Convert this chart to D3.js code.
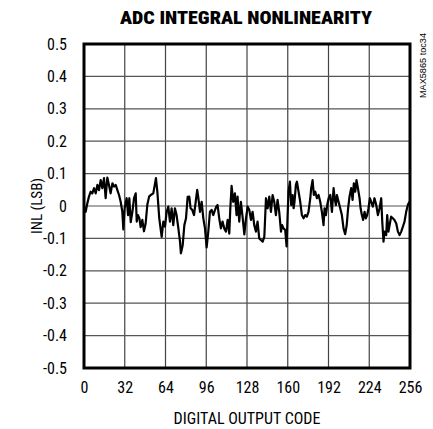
<!DOCTYPE html>
<html><head><meta charset="utf-8">
<script src="https://cdn.jsdelivr.net/npm/d3@7"></script>
<style>
html,body{margin:0;padding:0;background:#fff;}
text{font-family:"Liberation Sans Narrow","Arial Narrow","Roboto Condensed","DejaVu Sans Condensed",sans-serif;fill:#000;}
</style></head>
<body><svg id="c" width="433" height="429"></svg>
<script>
const title = "ADC INTEGRAL NONLINEARITY";
const xLabel = "DIGITAL OUTPUT CODE";
const yLabel = "INL (LSB)";
const sideNote = "MAX5865 toc34";
const xTicks = [0,32,64,96,128,160,192,224,256];
const yTicks = [-0.5,-0.4,-0.3,-0.2,-0.1,0,0.1,0.2,0.3,0.4,0.5];

const codes = [
0,1.3,2.6,3.9,5.2,6.5,7.9,9.2,10.5,11.8,13.1,14.4,15.7,17.0,18.3,19.6,20.9,22.3,23.6,24.9,26.2,27.5,28.8,30.1,30.9,31.9,33.5,34.6,35.6,36.7,38.0,39.3,40.6,41.4,42.4,43.5,44.5,45.8,47.1,48.4,49.7,51.1,
52.4,54.4,56.5,57.6,59.1,61.0,62.3,63.6,64.9,66.2,67.5,68.8,70.1,71.4,72.7,74.1,75.4,76.1,77.5,78.8,80.1,81.4,82.7,83.7,85.0,86.4,87.7,88.9,89.8,91.1,92.4,93.7,95.0,96.3,97.6,98.9,100.2,101.5,102.9,
103.9,104.9,106.2,107.5,108.8,110.1,111.5,112.8,114.1,114.9,115.9,117.2,118.5,119.8,120.6,121.9,123.2,124.5,125.9,127.2,128.5,129.8,131.1,132.4,133.7,135.0,136.3,137.6,138.9,140.3,141.6,142.9,144.2,145.5,146.8,148.1,149.4,150.7,152.0,153.3,154.7,
155.6,156.7,158.0,159.1,159.9,160.6,161.7,162.7,163.8,164.6,165.3,166.4,167.2,168.5,169.8,171.1,172.4,173.7,175.0,176.3,177.7,178.4,179.5,180.5,181.6,182.9,184.2,185.5,186.8,188.1,188.9,190.0,191.0,192.1,193.4,194.7,196.0,196.8,197.8,198.6,199.9,201.2,202.5,203.8,205.1,206.3,
207.4,208.5,209.8,210.9,211.9,213.0,214.0,215.1,216.4,217.2,218.2,219.2,220.3,221.3,222.4,223.4,224.5,225.5,226.8,228.1,229.5,230.8,232.1,233.4,234.2,235.2,236.0,237.3,238.1,239.1,240.2,241.2,242.5,243.8,245.2,246.5,247.8,249.1,250.4,251.7,253.0,254.3,255.5
];
const inl = [
-0.002,-0.018,0.008,0.029,0.044,0.039,0.055,0.039,0.065,0.049,0.080,0.055,0.086,0.024,0.088,0.065,0.039,0.070,0.060,0.065,0.049,0.034,0.013,-0.018,-0.072,-0.007,0.024,-0.028,0.024,-0.050,-0.018,0.024,0.039,-0.048,-0.028,-0.038,-0.065,-0.043,-0.078,-0.054,0.003,0.029,
0.034,0.039,0.086,0.044,-0.038,-0.095,-0.048,-0.064,-0.018,-0.002,-0.048,-0.007,-0.059,-0.007,-0.028,-0.069,-0.110,-0.146,-0.121,-0.059,-0.038,0.028,0.029,-0.007,-0.012,-0.028,0.013,0.050,0.024,-0.018,0.013,-0.038,-0.069,-0.128,-0.079,-0.018,-0.012,-0.028,-0.012,
-0.002,0.003,-0.038,-0.069,-0.048,-0.069,-0.079,-0.043,-0.085,-0.007,0.062,0.013,0.039,-0.028,0.029,-0.048,0.013,-0.033,-0.088,-0.038,-0.002,-0.012,-0.043,-0.018,-0.059,-0.079,-0.048,-0.100,-0.105,-0.110,-0.095,0.024,-0.007,0.029,-0.018,0.034,0.013,-0.028,0.019,-0.018,-0.079,
-0.059,-0.069,-0.074,-0.125,-0.028,0.044,0.075,0.003,0.034,-0.007,0.013,0.065,0.075,0.044,0.013,-0.028,-0.038,-0.028,-0.033,-0.018,0.024,0.055,0.080,0.034,0.044,0.024,0.034,0.013,-0.018,-0.059,-0.007,-0.028,0.003,0.024,0.034,-0.018,0.055,0.024,0.003,0.034,0.013,-0.007,-0.028,-0.069,-0.087,-0.059,
-0.007,0.029,0.055,0.019,0.070,0.044,0.080,0.055,0.024,-0.007,-0.028,-0.043,-0.018,-0.038,-0.028,-0.007,0.024,0.013,-0.002,0.024,0.003,-0.028,-0.007,0.024,-0.048,-0.110,-0.079,-0.090,-0.028,-0.079,-0.054,-0.033,-0.038,-0.043,-0.054,-0.079,-0.090,-0.079,-0.064,-0.048,-0.018,0.003,0.013
];

const svg = d3.select("#c");
const L = 84, R = 410, T = 44, B = 368;
const x = d3.scaleLinear().domain([0,256]).range([L,R]);
const y = d3.scaleLinear().domain([-0.5,0.5]).range([B,T]);

// grid
svg.append("g").selectAll("line").data(xTicks.slice(1,-1)).join("line")
  .attr("x1",d=>x(d)).attr("x2",d=>x(d)).attr("y1",T).attr("y2",B)
  .attr("stroke","#444").attr("stroke-width",1.2);
svg.append("g").selectAll("line").data(yTicks.slice(1,-1)).join("line")
  .attr("y1",d=>y(d)).attr("y2",d=>y(d)).attr("x1",L).attr("x2",R)
  .attr("stroke","#555").attr("stroke-width",1.2);

// data line
const pts = codes.map((c,i)=>[c,inl[i]]);
svg.append("path").datum(pts)
  .attr("d", d3.line().x(d=>x(d[0])).y(d=>y(d[1])))
  .attr("fill","none").attr("stroke","#000").attr("stroke-width",2.2).attr("stroke-linejoin","round");

// frame
svg.append("rect").attr("x",L).attr("y",T).attr("width",R-L).attr("height",B-T)
  .attr("fill","none").attr("stroke","#000").attr("stroke-width",3);

// axes labels
const yAxis = d3.axisLeft(y).tickValues(yTicks).tickSize(0).tickPadding(17)
  .tickFormat(d=> Math.abs(d)<1e-9 ? "0" : d.toFixed(1));
const gy = svg.append("g").attr("transform",`translate(${L},0)`).call(yAxis);
gy.select(".domain").remove();
gy.selectAll("text").style("font-size","16px").attr("fill","#000");

const xAxis = d3.axisBottom(x).tickValues(xTicks).tickSize(0).tickPadding(14)
  .tickFormat(d3.format("d"));
const gx = svg.append("g").attr("transform",`translate(0,${B})`).call(xAxis);
gx.select(".domain").remove();
gx.selectAll("text").style("font-size","16px").attr("fill","#000");

svg.append("text").attr("x",246).attr("y",24).attr("text-anchor","middle")
  .style("font-size","19px").style("font-weight","900").text(title)
  .attr("textLength",252).attr("lengthAdjust","spacingAndGlyphs");
svg.append("text").attr("x",247).attr("y",424).attr("text-anchor","middle")
  .style("font-size","16px").text(xLabel);
svg.append("text").attr("transform","translate(42,206) rotate(-90)").attr("text-anchor","middle")
  .style("font-size","15px").text(yLabel);
svg.append("text").attr("transform","translate(426,33) rotate(-90)").attr("text-anchor","end")
  .style("font-size","9.5px").style("font-family","'Liberation Sans',Arial,sans-serif").text(sideNote)
  .attr("textLength",65).attr("lengthAdjust","spacingAndGlyphs");
</script></body></html>
